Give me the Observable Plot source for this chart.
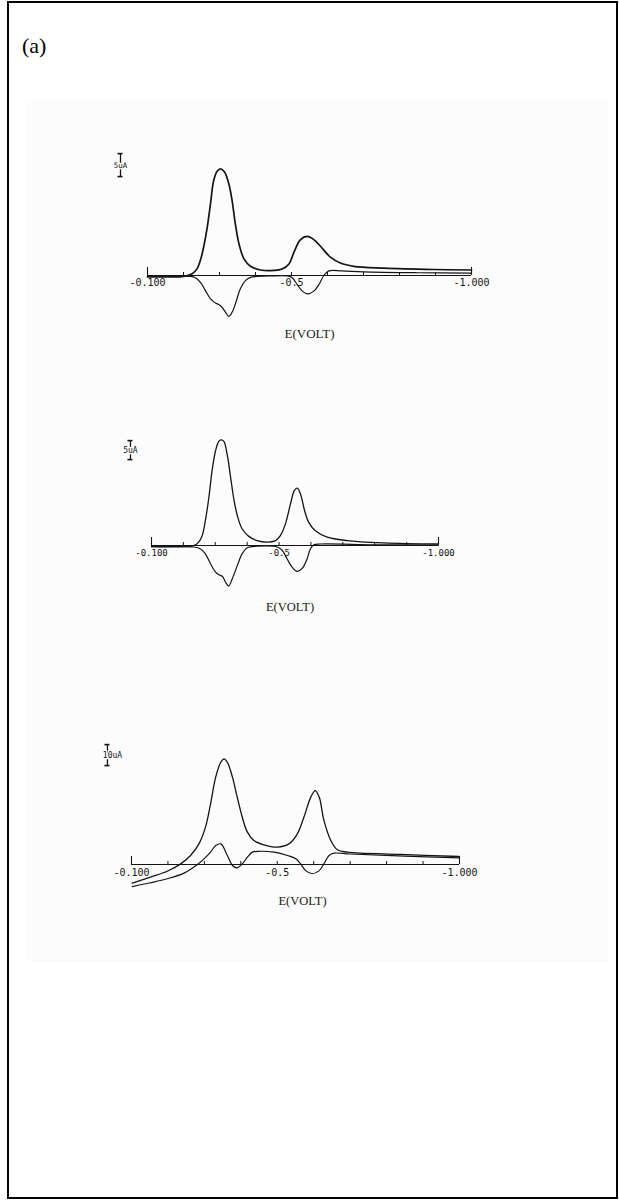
<!DOCTYPE html>
<html>
<head>
<meta charset="utf-8">
<script src="https://cdn.jsdelivr.net/npm/d3@7"></script>
<script src="https://cdn.jsdelivr.net/npm/@observablehq/plot@0.6"></script>
<style>
  html, body { margin: 0; padding: 0; background: #fff; }
  #page { position: relative; width: 619px; height: 1200px; overflow: hidden; background: #fff; }
  #frame { position: absolute; left: 7px; top: 1px; width: 611px; height: 1198px; border: 2px solid #000; box-sizing: border-box; }
  #scan { position: absolute; left: 27px; top: 101px; width: 581px; height: 861px; background: #fcfcfc; }
  #tag { position: absolute; left: 22px; top: 35px; font: 22px "Liberation Serif", serif; line-height: 1; color: #000; }
  .panel { position: absolute; }
</style>
</head>
<body>
<div id="page">
  <div id="frame"></div>
  <div id="scan"></div>
  <div id="tag">(a)</div>
</div>
<script>
// ---------- Data (potential E in volts, current I in µA) ----------
const tickValues = [-0.1, -0.2, -0.3, -0.4, -0.5, -0.6, -0.7, -0.8, -0.9, -1.0];
const tickLabelValues = [-0.1, -0.5, -1.0];
const tickLabelTexts = ["-0.100", "-0.5", "-1.000"];
const axisTitle = "E(VOLT)";
const scaleLabels = ["5uA", "5uA", "10uA"];
const scaleValues = [5, 5, 10];

// Panel 1
const p1ForwardE = [-0.100,-0.150,-0.200,-0.224,-0.238,-0.247,-0.256,-0.266,-0.275,-0.284,-0.294,-0.303,-0.314,-0.326,-0.335,-0.344,-0.354,-0.368,-0.386,-0.414,-0.451,-0.474,-0.493,-0.507,-0.525,-0.544,-0.562,-0.581,-0.608,-0.636,-0.673,-0.757,-0.895,-1.000];
const p1ForwardI = [-0.3,-0.3,-0.2,0.4,1.5,3.3,6.2,10.5,15.6,20.7,22.7,23.2,22.5,19.9,16.3,11.2,6.9,3.6,2.0,1.2,1.1,1.4,2.5,5.1,7.8,8.5,7.8,6.3,4.0,2.7,2.0,1.6,1.3,1.2];
const p1ReverseE = [-1.000,-0.850,-0.700,-0.640,-0.604,-0.590,-0.576,-0.562,-0.545,-0.530,-0.516,-0.502,-0.490,-0.440,-0.405,-0.386,-0.372,-0.358,-0.344,-0.335,-0.326,-0.317,-0.307,-0.298,-0.289,-0.275,-0.261,-0.247,-0.233,-0.220,-0.160,-0.100];
const p1ReverseI = [0.5,0.6,0.8,1.0,1.0,0,-2.0,-3.4,-4.0,-3.4,-2.0,-0.5,-0.1,-0.1,-0.2,-0.4,-1.1,-2.9,-6.2,-8.0,-8.9,-8.0,-6.9,-6.3,-6.0,-5.1,-3.3,-1.5,-0.5,-0.2,-0.2,-0.2];

// Panel 2
const p2ForwardE = [-0.100,-0.201,-0.233,-0.248,-0.259,-0.269,-0.280,-0.290,-0.301,-0.311,-0.318,-0.327,-0.337,-0.348,-0.358,-0.369,-0.384,-0.405,-0.431,-0.463,-0.489,-0.504,-0.520,-0.536,-0.548,-0.557,-0.567,-0.580,-0.593,-0.614,-0.651,-0.713,-0.828,-1.000];
const p2ForwardI = [-0.3,-0.3,0,0.9,2.6,6.6,12.7,19.7,25.0,27.4,27.8,27.4,24.1,18.0,12.3,7.9,4.4,2.4,1.3,0.9,1.3,2.6,5.7,11.0,14.5,15.1,13.6,9.2,6.1,3.9,2.2,1.3,0.7,0.4];
const p2ReverseE = [-1.000,-0.800,-0.630,-0.609,-0.598,-0.588,-0.572,-0.557,-0.541,-0.525,-0.510,-0.494,-0.431,-0.400,-0.384,-0.369,-0.353,-0.342,-0.332,-0.322,-0.311,-0.301,-0.285,-0.269,-0.254,-0.233,-0.100];
const p2ReverseI = [0.1,0.2,0.4,0.2,-0.9,-3.5,-6.1,-6.8,-5.7,-3.5,-1.3,-0.4,-0.2,-0.6,-2.2,-5.3,-8.8,-10.7,-9.6,-8.1,-7.7,-7.0,-4.8,-2.2,-0.9,-0.4,-0.3];

// Panel 3
const p3ForwardE = [-0.102,-0.152,-0.198,-0.235,-0.262,-0.285,-0.303,-0.317,-0.331,-0.345,-0.354,-0.363,-0.377,-0.390,-0.404,-0.418,-0.436,-0.463,-0.500,-0.532,-0.555,-0.573,-0.592,-0.604,-0.615,-0.628,-0.647,-0.665,-0.693,-0.839,-0.999];
const p3ForwardI = [-8.9,-6.0,-3.2,0.3,4.3,9.8,17.8,28.9,41.6,48.7,50.3,48.7,41.6,32.1,22.5,15.4,11.4,9.4,8.3,9.8,14.6,22.5,32.1,35.2,32.1,21.0,11.4,7.0,5.9,4.8,3.8];
const p3ReverseE = [-1.000,-0.850,-0.700,-0.656,-0.642,-0.628,-0.615,-0.596,-0.578,-0.564,-0.551,-0.528,-0.491,-0.454,-0.432,-0.418,-0.404,-0.390,-0.377,-0.363,-0.345,-0.331,-0.317,-0.299,-0.280,-0.244,-0.198,-0.152,-0.102];
const p3ReverseI = [3.2,4.0,5.0,5.4,4.3,0.3,-2.9,-4.4,-2.9,0.3,2.7,4.3,5.9,6.3,5.9,3.5,0.3,-1.6,-0.5,4.3,9.8,9.0,5.9,2.7,-0.1,-4.1,-6.8,-8.7,-10.5];

// ---------- Layout (page pixels) ----------
const ink = "#141414";
const bg = "#fcfcfc";
const layout = [
  {left: 100, top: 140, width: 400, height: 210, xStartPx: 147, xEndPx: 471, yZeroPx: 275, ppu: 4.6, yDomain: [-12, 28],
   tickFont: 10, tickDy: 7, labelPx: 333, labelDx: 0, labelFont: 13, labelSpacing: 0.8,
   sbE: -0.025, sbTop: 26.5, sbFont: 7.5, sbDx: 0, fwdWidth: 1.7, revWidth: 1.2},
  {left: 100, top: 410, width: 400, height: 210, xStartPx: 151, xEndPx: 438, yZeroPx: 545, ppu: 3.8, yDomain: [-14, 32],
   tickFont: 9, tickDy: 8, labelPx: 606, labelDx: -5, labelFont: 12.5, labelSpacing: 0.7,
   sbE: -0.034, sbTop: 27.6, sbFont: 8, sbDx: 0, fwdWidth: 1.3, revWidth: 1.2},
  {left: 100, top: 730, width: 400, height: 190, xStartPx: 131, xEndPx: 459, yZeroPx: 864, ppu: 2.1, yDomain: [-14, 60],
   tickFont: 10, tickDy: 8, labelPx: 900, labelDx: 7, labelFont: 12.5, labelSpacing: 0.7,
   sbE: -0.034, sbTop: 57.1, sbFont: 8, sbDx: 5, fwdWidth: 1.3, revWidth: 1.2}
];

const series = [
  [p1ForwardE, p1ForwardI, p1ReverseE, p1ReverseI],
  [p2ForwardE, p2ForwardI, p2ReverseE, p2ReverseI],
  [p3ForwardE, p3ForwardI, p3ReverseE, p3ReverseI]
];

const rows = (E, I) => E.map((e, i) => ({E: e, I: I[i]}));
const axisStart = tickValues[0];
const axisEnd = tickValues[tickValues.length - 1];

layout.forEach((cfg, k) => {
  const [fE, fI, rE, rI] = series[k];
  const fwd = rows(fE, fI);
  const rev = rows(rE, rI);
  const ml = cfg.xStartPx - cfg.left;
  const mr = cfg.left + cfg.width - cfg.xEndPx;
  const zero = cfg.yZeroPx - cfg.top;
  const [yMin, yMax] = cfg.yDomain;
  const mt = zero - yMax * cfg.ppu;
  const mb = cfg.height - (zero - yMin * cfg.ppu);
  const frameBottomPx = cfg.top + cfg.height - mb;
  const sb = {E: cfg.sbE, top: cfg.sbTop, len: scaleValues[k], label: scaleLabels[k]};

  const chart = Plot.plot({
    width: cfg.width,
    height: cfg.height,
    marginLeft: ml,
    marginRight: mr,
    marginTop: mt,
    marginBottom: mb,
    style: {background: "transparent", overflow: "visible"},
    x: {domain: [axisStart, axisEnd], axis: null},
    y: {domain: cfg.yDomain, axis: null},
    marks: [
      // baseline axis
      Plot.ruleY([0], {y: d => d, x1: () => axisStart, x2: () => axisEnd, stroke: ink, strokeWidth: 1.1}),
      Plot.ruleX(tickValues, {x: d => d, y1: () => 0, y2: () => 0, insetTop: -3, stroke: ink, strokeWidth: 1}),
      Plot.ruleX([axisStart, axisEnd], {x: d => d, y1: () => 0, y2: () => 0, insetTop: -8, stroke: ink, strokeWidth: 1.1}),
      Plot.text(tickLabelValues, {x: d => d, y: () => 0, text: (d, i) => tickLabelTexts[i], dy: cfg.tickDy,
        fontFamily: "DejaVu Sans Mono", fontSize: cfg.tickFont, fill: ink, lineAnchor: "middle"}),
      // curves
      Plot.line(rev, {x: "E", y: "I", curve: "catmull-rom", stroke: ink, strokeWidth: cfg.revWidth}),
      Plot.line(fwd, {x: "E", y: "I", curve: "catmull-rom", stroke: ink, strokeWidth: cfg.fwdWidth}),
      // scale bar
      Plot.ruleX([sb], {x: "E", y1: "top", y2: d => d.top - d.len, stroke: ink, strokeWidth: 1.3}),
      Plot.ruleY([sb.top, sb.top - sb.len], {y: d => d, x1: () => sb.E, x2: () => sb.E, insetLeft: -2.5, insetRight: -2.5, stroke: ink, strokeWidth: 1.6}),
      Plot.text([sb], {x: "E", y: d => d.top - d.len / 2, text: "label", dx: cfg.sbDx, fontFamily: "DejaVu Sans Mono",
        fontSize: cfg.sbFont, fill: ink, stroke: bg, strokeWidth: 2.5}),
      // axis title
      Plot.text([axisTitle], {text: d => d, frameAnchor: "bottom", dy: cfg.labelPx - frameBottomPx, dx: cfg.labelDx,
        fontFamily: "Liberation Serif", fontSize: cfg.labelFont, fill: "#1a1a1a", lineAnchor: "middle",
        letterSpacing: cfg.labelSpacing})
    ]
  });
  chart.classList.add("panel");
  chart.style.left = cfg.left + "px";
  chart.style.top = cfg.top + "px";
  chart.style.position = "absolute";
  document.getElementById("page").appendChild(chart);
});
</script>
</body>
</html>
